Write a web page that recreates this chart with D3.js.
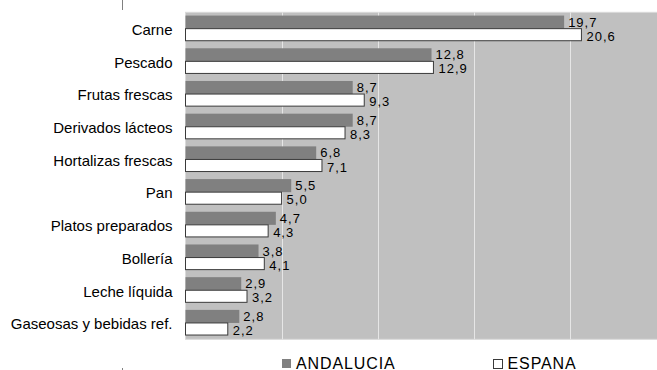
<!DOCTYPE html>
<html>
<head>
<meta charset="utf-8">
<script src="https://cdn.jsdelivr.net/npm/d3@7"></script>
<style>
  body { margin: 0; background: #fff; }
  text { font-family: "Liberation Sans", Arial, sans-serif; fill: #000; }
</style>
</head>
<body>
<div id="chart"></div>
<script>
// data
let categories = ["Carne", "Pescado", "Frutas frescas", "Derivados lácteos",
  "Hortalizas frescas", "Pan", "Platos preparados", "Bollería",
  "Leche líquida", "Gaseosas y bebidas ref."];
let andalucia = [19.7, 12.8, 8.7, 8.7, 6.8, 5.5, 4.7, 3.8, 2.9, 2.8];
let espana = [20.6, 12.9, 9.3, 8.3, 7.1, 5.0, 4.3, 4.1, 3.2, 2.2];
let seriesNames = ["ANDALUCIA", "ESPANA"];
let gridTicks = [5, 10, 15, 20];

let width = 657, height = 370;
let plot = {left: 185.5, top: 12.3, bottom: 339.3};

let svg = d3.select("#chart").append("svg")
  .attr("width", width)
  .attr("height", height);

// scales
let xScale = d3.scaleLinear().domain([0, 25]).range([plot.left, 666]);
let yScale = d3.scaleBand().domain(categories)
  .range([plot.top, plot.bottom])
  .paddingInner(0.2).paddingOuter(0.1);
let subScale = d3.scaleBand().domain(seriesNames)
  .range([0, yScale.bandwidth()]);

// plot background
svg.append("rect")
  .attr("x", plot.left)
  .attr("y", plot.top)
  .attr("width", width - plot.left + 2)
  .attr("height", plot.bottom - plot.top)
  .attr("fill", "#c0c0c0")
  .attr("stroke", "#dadada")
  .attr("stroke-width", 1);

// grid lines
svg.append("g").selectAll("line")
  .data(gridTicks).enter().append("line")
  .attr("x1", (d) => Math.round(xScale(d)) + 0.5)
  .attr("x2", (d) => Math.round(xScale(d)) + 0.5)
  .attr("y1", plot.top)
  .attr("y2", plot.bottom)
  .attr("stroke", "#e6e6e6")
  .attr("stroke-width", 1);

// little stray ticks from the original
svg.append("line").attr("x1", 122.5).attr("x2", 122.5).attr("y1", 0).attr("y2", 10)
  .attr("stroke", "#808080");
svg.append("line").attr("x1", 122.5).attr("x2", 122.5).attr("y1", 368).attr("y2", 370)
  .attr("stroke", "#808080");

let rows = categories.map((c, i) => ({cat: c, a: andalucia[i], e: espana[i]}));

let groups = svg.append("g").selectAll("g")
  .data(rows).enter().append("g")
  .attr("transform", (d) => "translate(0," + yScale(d.cat) + ")");

// Andalucia bars
groups.append("rect")
  .attr("x", xScale(0))
  .attr("y", subScale("ANDALUCIA"))
  .attr("width", (d) => xScale(d.a) - xScale(0))
  .attr("height", subScale.bandwidth())
  .attr("fill", "#808080");

// Espana bars
groups.append("rect")
  .attr("x", xScale(0))
  .attr("y", subScale("ESPANA"))
  .attr("width", (d) => xScale(d.e) - xScale(0))
  .attr("height", subScale.bandwidth() - 1)
  .attr("fill", "#ffffff")
  .attr("stroke", "#3a3a3a")
  .attr("stroke-width", 1);

let fmt = (v) => v.toFixed(1).replace(".", ",");

// value labels
groups.append("text")
  .attr("x", (d) => xScale(d.a) + 4)
  .attr("y", subScale("ANDALUCIA") + subScale.bandwidth() / 2)
  .attr("dy", "0.35em")
  .style("font-size", "13px")
  .style("letter-spacing", "1px")
  .text((d) => fmt(d.a));

groups.append("text")
  .attr("x", (d) => xScale(d.e) + 5)
  .attr("y", subScale("ESPANA") + subScale.bandwidth() / 2 + 1)
  .attr("dy", "0.35em")
  .style("font-size", "13px")
  .style("letter-spacing", "1px")
  .text((d) => fmt(d.e));

// category labels
svg.append("g").selectAll("text")
  .data(categories).enter().append("text")
  .attr("x", 172.5)
  .attr("y", (d) => yScale(d) + yScale.bandwidth() / 2 + 1)
  .attr("dy", "0.35em")
  .attr("text-anchor", "end")
  .style("font-size", "15px")
  .text((d) => d);

// legend
let legend = svg.append("g");
legend.append("rect")
  .attr("x", 282).attr("y", 359).attr("width", 9).attr("height", 9)
  .attr("fill", "#808080");
legend.append("text")
  .attr("x", 296).attr("y", 368.5)
  .style("font-size", "16px").style("letter-spacing", "0.9px")
  .text(seriesNames[0]);
legend.append("rect")
  .attr("x", 493.5).attr("y", 359.5).attr("width", 9).attr("height", 9)
  .attr("fill", "#fff").attr("stroke", "#3a3a3a");
legend.append("text")
  .attr("x", 507.5).attr("y", 368.5)
  .style("font-size", "16px").style("letter-spacing", "0.9px")
  .text(seriesNames[1]);
</script>
</body>
</html>
